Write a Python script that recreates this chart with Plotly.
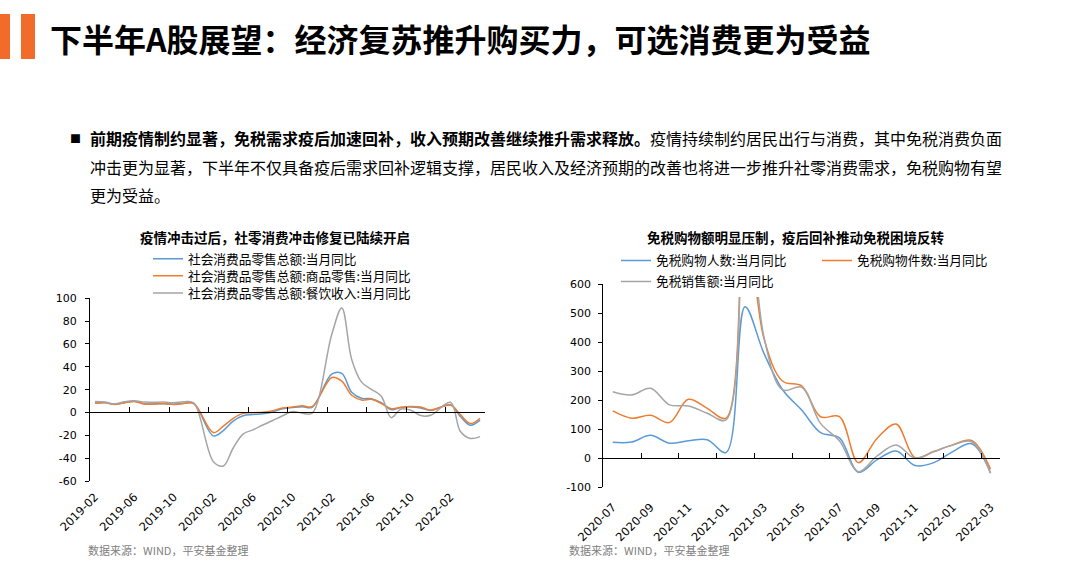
import plotly.graph_objects as go

W, H = 1079, 586

# ---------------- data: left chart (社零) ----------------
retail_months = [
    "2019-02", "2019-03", "2019-04", "2019-05", "2019-06", "2019-07", "2019-08", "2019-09", "2019-10", "2019-11", "2019-12",
    "2020-01", "2020-02", "2020-03", "2020-04", "2020-05", "2020-06", "2020-07", "2020-08", "2020-09", "2020-10", "2020-11", "2020-12",
    "2021-01", "2021-02", "2021-03", "2021-04", "2021-05", "2021-06", "2021-07", "2021-08", "2021-09", "2021-10", "2021-11", "2021-12",
    "2022-01", "2022-02", "2022-03", "2022-04", "2022-05",
]
retail_total = [
    8.2, 8.7, 7.2, 8.6, 9.8, 7.6, 7.5, 7.8, 7.2, 8.0, 8.0,
    None, -20.5, -15.8, -7.5, -2.8, -1.8, -1.1, 0.5, 3.3, 4.3, 5.0, 4.6,
    None, 33.8, 34.2, 17.7, 12.4, 12.1, 8.5, 2.5, 4.4, 4.9, 3.9, 1.7,
    None, 6.7, -3.5, -11.1, -6.7,
]
retail_goods = [
    8.1, 8.6, 7.1, 8.5, 9.7, 7.4, 7.4, 7.7, 7.0, 7.9, 7.9,
    None, -17.6, -12.0, -5.1, -0.8, -0.2, 0.2, 1.6, 4.0, 4.7, 5.8, 5.2,
    None, 30.7, 27.4, 15.1, 10.9, 11.5, 7.9, 3.3, 4.5, 5.2, 4.8, 2.1,
    None, 6.5, -1.9, -9.7, -5.0,
]
retail_catering = [
    9.7, 9.1, 7.6, 9.4, 10.2, 9.1, 9.0, 9.1, 8.6, 9.4, 8.5,
    None, -43.1, -46.8, -31.1, -18.9, -15.2, -11.0, -7.0, -2.9, 0.8, -0.6, -0.6,
    None, 68.9, 91.6, 46.4, 26.6, 20.3, 14.3, -4.5, 3.1, 2.0, -2.7, -2.5,
    None, 8.9, -16.4, -22.7, -21.1,
]
left_x_ticks = ["2019-02", "2019-06", "2019-10", "2020-02", "2020-06", "2020-10",
                "2021-02", "2021-06", "2021-10", "2022-02"]
left_y_ticks = [-60, -40, -20, 0, 20, 40, 60, 80, 100]
left_y_labels = ["-60", "-40", "-20", "0", "20", "40", "60", "80", "100"]

# ---------------- data: right chart (免税) ----------------
dutyfree_months = [
    "2020-07", "2020-08", "2020-09", "2020-10", "2020-11", "2020-12",
    "2021-01", "2021-02", "2021-03", "2021-04", "2021-05", "2021-06", "2021-07", "2021-08",
    "2021-09", "2021-10", "2021-11", "2021-12", "2022-01", "2022-02", "2022-03",
]
dutyfree_shoppers = [55, 56, 79, 52, 60, 64, 20, 522, 362, 235, 166, 88, 70, -48, -5, 25, -25, -15, 23, 50, -50]
dutyfree_items = [163, 138, 148, 123, 203, 172, 138, 870, 413, 265, 249, 143, 143, -15, 69, 118, 2, 23, 46, 61, -38]
dutyfree_sales = [229, 218, 241, 184, 180, 155, 132, 1000, 419, 235, 245, 120, 60, -46, 8, 46, 0, 23, 46, 57, -52]
right_x_ticks = ["2020-07", "2020-09", "2020-11", "2021-01", "2021-03", "2021-05",
                 "2021-07", "2021-09", "2021-11", "2022-01", "2022-03"]
right_y_ticks = [-100, 0, 100, 200, 300, 400, 500, 600]
right_y_labels = ["-100", "0", "100", "200", "300", "400", "500", "600"]

BLUE, ORANGE, GRAY = "#5B9BD5", "#ED7D31", "#A5A5A5"
CJK = "Noto Sans CJK SC"
NUM = "DejaVu Sans"


def px(x):
    return x / W


def py(y):
    return 1 - y / H


# plot areas in pixels
L_X0, L_X1, L_Y0, L_Y1 = 90, 485, 298.3, 481.0
R_X0, R_X1, R_Y0, R_Y1 = 603.3, 1000.0, 284.0, 487.3
L_YMIN, L_YMAX = -60, 100
R_YMIN, R_YMAX = -100, 600

fig = go.Figure()

left_series = [
    ("社会消费品零售总额:当月同比", retail_total, BLUE, "legend"),
    ("社会消费品零售总额:商品零售:当月同比", retail_goods, ORANGE, "legend2"),
    ("社会消费品零售总额:餐饮收入:当月同比", retail_catering, GRAY, "legend3"),
]
for name, vals, col, lg in left_series:
    fig.add_trace(go.Scatter(
        x=retail_months, y=vals, name=name, mode="lines", connectgaps=True,
        line=dict(color=col, width=1.5, shape="spline", smoothing=1),
        xaxis="x", yaxis="y", legend=lg, hoverinfo="skip",
    ))

right_series = [
    ("免税购物人数:当月同比", dutyfree_shoppers, BLUE, "legend4"),
    ("免税购物件数:当月同比", dutyfree_items, ORANGE, "legend5"),
    ("免税销售额:当月同比", dutyfree_sales, GRAY, "legend6"),
]
for name, vals, col, lg in right_series:
    fig.add_trace(go.Scatter(
        x=dutyfree_months, y=vals, name=name, mode="lines", connectgaps=True,
        line=dict(color=col, width=1.5, shape="spline", smoothing=1),
        xaxis="x2", yaxis="y2", legend=lg, hoverinfo="skip",
    ))

# invisible carriers so the zero-line category axes (with boundary ticks) get drawn
fig.add_trace(go.Scatter(x=list(range(len(retail_months))), y=retail_total, mode="lines",
                         opacity=0, showlegend=False, hoverinfo="skip", xaxis="x3", yaxis="y"))
fig.add_trace(go.Scatter(x=list(range(len(dutyfree_months))), y=dutyfree_shoppers, mode="lines",
                         opacity=0, showlegend=False, hoverinfo="skip", xaxis="x4", yaxis="y2"))

tickfont_x = dict(family=NUM, size=11.5, color="#000000")
tickfont_y = dict(family=NUM, size=11, color="#000000")

n_left = len(retail_months)
n_right = len(dutyfree_months)

layout = dict(
    width=W, height=H,
    margin=dict(l=0, r=0, t=0, b=0, autoexpand=False),
    paper_bgcolor="white", plot_bgcolor="white",
    showlegend=True,
    xaxis=dict(
        domain=[px(L_X0), px(L_X1)], anchor="y", type="category",
        range=[-0.5, n_left - 0.5], tickmode="array",
        tickvals=left_x_ticks, ticktext=left_x_ticks, tickangle=-45,
        tickfont=tickfont_x, showline=False, ticks="", showgrid=False, zeroline=False,
        ticklabelstandoff=6,
    ),
    yaxis=dict(
        domain=[py(L_Y1), py(L_Y0)], anchor="x", range=[L_YMIN, L_YMAX],
        tickmode="array", tickvals=left_y_ticks, ticktext=left_y_labels,
        tickfont=tickfont_y, showline=True, linecolor="#000000", linewidth=1,
        ticks="outside", ticklen=4, tickcolor="#000000", showgrid=False, zeroline=False,
        ticklabelstandoff=6,
    ),
    xaxis3=dict(
        overlaying="x", anchor="free",
        position=py(L_Y1) + (py(L_Y0) - py(L_Y1)) * (0 - L_YMIN) / (L_YMAX - L_YMIN),
        type="linear", range=[-0.5, n_left - 0.5], tick0=-0.5, dtick=4,
        ticks="inside", ticklen=5, tickcolor="#000000", showline=True,
        linecolor="#000000", linewidth=1, showticklabels=False, showgrid=False, zeroline=False,
    ),
    xaxis2=dict(
        domain=[px(R_X0), px(R_X1)], anchor="y2", type="category",
        range=[-0.5, n_right - 0.5], tickmode="array",
        tickvals=right_x_ticks, ticktext=right_x_ticks, tickangle=-45,
        tickfont=tickfont_x, showline=False, ticks="", showgrid=False, zeroline=False,
        ticklabelstandoff=10,
    ),
    yaxis2=dict(
        domain=[py(R_Y1), py(R_Y0)], anchor="x2", range=[R_YMIN, R_YMAX],
        tickmode="array", tickvals=right_y_ticks, ticktext=right_y_labels,
        tickfont=tickfont_y, showline=True, linecolor="#000000", linewidth=1,
        ticks="outside", ticklen=4, tickcolor="#000000", showgrid=False, zeroline=False,
        ticklabelstandoff=5,
    ),
    xaxis4=dict(
        overlaying="x2", anchor="free",
        position=py(R_Y1) + (py(R_Y0) - py(R_Y1)) * (0 - R_YMIN) / (R_YMAX - R_YMIN),
        type="linear", range=[-0.5, n_right - 0.5], tick0=-0.5, dtick=2,
        ticks="inside", ticklen=5, tickcolor="#000000", showline=True,
        linecolor="#000000", linewidth=1, showticklabels=False, showgrid=False, zeroline=False,
    ),
)

legfont = dict(family=CJK, size=12.7, color="#000000")
legend_pos = {
    "legend": (188, 259.0), "legend2": (188, 276.0), "legend3": (188, 293.3),
    "legend4": (656, 260.7), "legend5": (857, 260.7), "legend6": (656, 281.7),
}
for key, (tx, ty) in legend_pos.items():
    layout[key] = dict(
        x=px(tx - 40), y=py(ty), xanchor="left", yanchor="middle",
        font=legfont, bgcolor="white" if key == "legend6" else "rgba(0,0,0,0)",
        borderwidth=0, itemwidth=30, orientation="v", tracegroupgap=0,
    )

fig.update_layout(**layout)

# decorative title bars
fig.add_shape(type="rect", xref="paper", yref="paper", x0=px(0), x1=px(10), y0=py(59), y1=py(14),
              fillcolor="#F26B2A", line_width=0)
fig.add_shape(type="rect", xref="paper", yref="paper", x0=px(21), x1=px(35), y0=py(59), y1=py(14),
              fillcolor="#F26B2A", line_width=0)


def text(x, y, s, size, color="#000000", anchor="left", family=CJK):
    fig.add_annotation(x=px(x), y=py(y), xref="paper", yref="paper", text=s, showarrow=False,
                       xanchor=anchor, yanchor="middle", font=dict(family=family, size=size, color=color))


text(48, 38, "<b>下半年A股展望：经济复苏推升购买力，可选消费更为受益</b>", 32)
text(68, 138, "■", 11)
text(88, 138, "<b>前期疫情制约显著，免税需求疫后加速回补，收入预期改善继续推升需求释放。</b>疫情持续制约居民出行与消费，其中免税消费负面", 16)
text(88, 167, "冲击更为显著，下半年不仅具备疫后需求回补逻辑支撑，居民收入及经济预期的改善也将进一步推升社零消费需求，免税购物有望", 16)
text(88, 195, "更为受益。", 16)
text(275, 237, "<b>疫情冲击过后，社零消费冲击修复已陆续开启</b>", 13.5, anchor="center")
text(795, 237, "<b>免税购物额明显压制，疫后回补推动免税困境反转</b>", 13.5, anchor="center")
text(86, 550, "数据来源：WIND，平安基金整理", 11, color="#808080")
text(567, 550, "数据来源：WIND，平安基金整理", 11, color="#808080")

fig.write_html("out.html")
